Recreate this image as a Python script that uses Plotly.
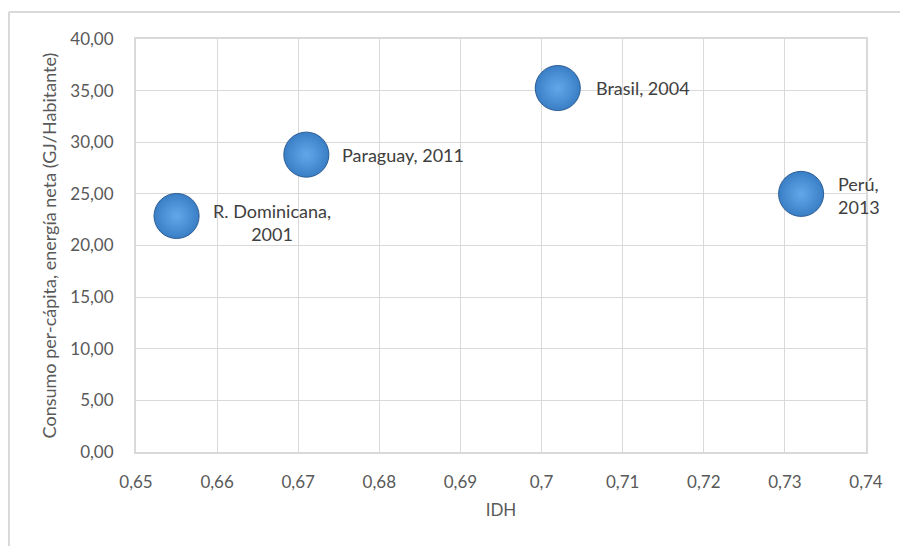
import plotly.graph_objects as go

# Data
idh = [0.655, 0.671, 0.702, 0.732]
consumo = [22.86, 28.8, 35.25, 25.0]
labels = ["R. Dominicana,<br>2001", "Paraguay, 2011", "Brasil, 2004", "Perú,<br>2013"]
x_ticks = [0.65, 0.66, 0.67, 0.68, 0.69, 0.70, 0.71, 0.72, 0.73, 0.74]
x_ticktext = ["0,65", "0,66", "0,67", "0,68", "0,69", "0,7", "0,71", "0,72", "0,73", "0,74"]
y_ticks = [0, 5, 10, 15, 20, 25, 30, 35, 40]
y_ticktext = ["0,00", "5,00", "10,00", "15,00", "20,00", "25,00", "30,00", "35,00", "40,00"]

FONT = "Lato, Open Sans, sans-serif"
TXT = "#595959"
GRID = "#d9d9d9"

fig = go.Figure()

# subtle shadow
fig.add_trace(go.Scatter(
    x=idh, y=consumo, mode="markers", hoverinfo="skip",
    marker=dict(size=47, color="rgba(120,120,120,0.12)", line=dict(width=0)),
    showlegend=False,
))

fig.add_trace(go.Scatter(
    x=idh, y=consumo, mode="markers",
    marker=dict(size=45, color="#3a7fc6",
                gradient=dict(type="radial", color="#62a8e8"),
                line=dict(color="#2b5f98", width=1)),
    showlegend=False,
))

# labels
label_cfg = [
    dict(xshift=34, yshift=-7, align="center"),
    dict(xshift=34, yshift=0, align="left"),
    dict(xshift=36, yshift=0, align="left"),
    dict(xshift=35, yshift=-2, align="left"),
]
for i, cfg in enumerate(label_cfg):
    fig.add_annotation(
        x=idh[i], y=consumo[i], text=labels[i], showarrow=False,
        xanchor="left", yanchor="middle",
        xshift=cfg["xshift"], yshift=cfg["yshift"], align=cfg["align"],
        font=dict(family=FONT, size=18, color="#404040"),
    )

fig.update_layout(
    width=900, height=546,
    margin=dict(l=136, r=34, t=39, b=94),
    paper_bgcolor="white", plot_bgcolor="white",
    font=dict(family=FONT, color=TXT, size=17),
    xaxis=dict(
        range=[0.65, 0.74], tickvals=x_ticks, ticktext=x_ticktext,
        showgrid=True, gridcolor=GRID, gridwidth=1,
        showline=True, linecolor=GRID, linewidth=2, mirror=True,
        zeroline=False, ticks="outside", ticklen=14, tickcolor="rgba(0,0,0,0)",
        tickfont=dict(family=FONT, size=17, color=TXT),
        title=dict(text="IDH", font=dict(family=FONT, size=17, color=TXT), standoff=13),
    ),
    yaxis=dict(
        range=[0, 40], tickvals=y_ticks, ticktext=y_ticktext,
        showgrid=True, gridcolor=GRID, gridwidth=1,
        showline=True, linecolor=GRID, linewidth=2, mirror=True,
        zeroline=False, ticks="outside", ticklen=17, tickcolor="rgba(0,0,0,0)",
        tickfont=dict(family=FONT, size=17, color=TXT),
        title=dict(text="Consumo per-cápita, energía neta (GJ/Habitante)",
                   font=dict(family=FONT, size=18, color=TXT), standoff=9),
    ),
    shapes=[
        dict(type="line", xref="paper", yref="paper",
             x0=(9 - 136) / 730, x1=(9 - 136) / 730, y0=(452 - 12) / 413, y1=(452 - 560) / 413,
             line=dict(color=GRID, width=2)),
        dict(type="line", xref="paper", yref="paper",
             x0=(9 - 136) / 730, x1=(910 - 136) / 730, y0=(452 - 12) / 413, y1=(452 - 12) / 413,
             line=dict(color=GRID, width=2)),
    ],
)

fig.write_html("out.html")
